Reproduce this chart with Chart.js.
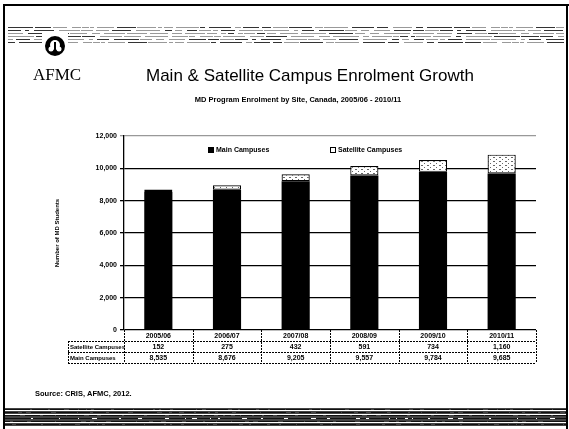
<!DOCTYPE html>
<html>
<head>
<meta charset="utf-8">
<script src="https://cdn.jsdelivr.net/npm/chart.js@4.4.1/dist/chart.umd.min.js"></script>
<style>
  html, body { margin: 0; padding: 0; background: #fff; }
  #wrap { width: 569px; height: 429px; position: relative; }
</style>
</head>
<body>
<div id="wrap"><canvas id="enrolChart" width="569" height="429"></canvas></div>
<script>
// data
var years = ['2005/06', '2006/07', '2007/08', '2008/09', '2009/10', '2010/11'];
var mainCampuses = [8535, 8676, 9205, 9557, 9784, 9685];
var satelliteCampuses = [152, 275, 432, 591, 734, 1160];
var yTicks = [0, 2000, 4000, 6000, 8000, 10000, 12000];

var chartTitle = 'Main & Satellite Campus Enrolment Growth';
var chartSubtitle = 'MD Program Enrolment by Site, Canada, 2005/06 - 2010/11';
var sourceNote = 'Source: CRIS, AFMC, 2012.';

function fmt(v) {
    return v.toLocaleString('en-US');
}

// dotted white fill for the satellite segment
var pCanvas = document.createElement('canvas');
pCanvas.width = 6; pCanvas.height = 4;
var pctx = pCanvas.getContext('2d');
pctx.fillStyle = '#fff';
pctx.fillRect(0, 0, 6, 4);
pctx.fillStyle = '#666';
pctx.fillRect(1, 1, 2, 1);
pctx.fillRect(4, 3, 1, 1);
var satFill = pctx.createPattern(pCanvas, 'repeat');

// scan-like noise strip (decoration only)
function noiseBand(ctx, y0, rows, gap, x0, x1, dark) {
    for (var r = 0; r < rows; r++) {
        var x = x0;
        var k = r * 7 + 3;
        while (x < x1) {
            k = (k * 37 + 11) % 101;
            var len = 4 + (k % 23);
            var skip = 1 + (k % 5);
            ctx.fillStyle = dark ? '#111' : (k % 3 === 0 ? '#333' : '#999');
            ctx.fillRect(x, y0 + r * gap, Math.min(len, x1 - x), 1);
            x += len + skip;
        }
    }
}

var decorPlugin = {
    id: 'slideDecor',
    beforeDraw: function(chart) {
        var ctx = chart.ctx;
        ctx.save();
        ctx.fillStyle = '#fff';
        ctx.fillRect(0, 0, chart.width, chart.height);
        // frame
        ctx.fillStyle = '#000';
        ctx.fillRect(3, 4, 566, 2);
        ctx.fillRect(3, 4, 2, 425);
        ctx.fillRect(566, 4, 2, 425);
        // top noise band
        noiseBand(ctx, 27, 6, 3, 8, 564, false);
        // bottom band
        ctx.fillStyle = '#444';
        ctx.fillRect(5, 408, 561, 19);
        ctx.fillStyle = '#fff';
        for (var i = 0; i < 5; i++) ctx.fillRect(5, 410 + i * 4, 561, 1);
        noiseBand(ctx, 409, 6, 3, 5, 566, true);
        // logo
        ctx.fillStyle = '#fff';
        ctx.fillRect(42, 33, 26, 26);
        ctx.fillStyle = '#000';
        ctx.beginPath();
        ctx.arc(55, 46, 10, 0, Math.PI * 2);
        ctx.fill();
        ctx.fillStyle = '#fff';
        ctx.beginPath();
        ctx.arc(55, 45, 5, 0, Math.PI * 2);
        ctx.fill();
        ctx.beginPath();
        ctx.arc(51, 49, 2.5, 0, Math.PI * 2);
        ctx.arc(59, 49, 2.5, 0, Math.PI * 2);
        ctx.fill();
        ctx.fillStyle = '#000';
        ctx.fillRect(54, 42, 2, 9);
        ctx.font = '17px "Liberation Serif"';
        ctx.textBaseline = 'middle';
        ctx.textAlign = 'left';
        ctx.fillText('AFMC', 33, 76);
        // titles
        ctx.font = '17px "Liberation Sans", Arial, sans-serif';
        ctx.fillText(chartTitle, 146, 76);
        ctx.font = 'bold 7.5px "Liberation Sans", Arial, sans-serif';
        ctx.textAlign = 'center';
        ctx.fillText(chartSubtitle, 298, 100);
        ctx.textAlign = 'left';
        ctx.fillText(sourceNote, 35, 394);
        ctx.restore();
    },
    afterDraw: function(chart) {
        var ctx = chart.ctx;
        var xs = chart.scales.x;
        var area = chart.chartArea;
        var n = years.length;
        var step = (area.right - area.left) / n;
        var tLeft = 68;
        var rowTop = area.bottom;
        var rowH = 11;
        ctx.save();
        ctx.strokeStyle = '#000';
        ctx.lineWidth = 1;
        ctx.setLineDash([2, 1]);
        // horizontal rules
        ctx.beginPath();
        ctx.moveTo(tLeft, rowTop + rowH + 0.5); ctx.lineTo(area.right, rowTop + rowH + 0.5);
        ctx.moveTo(tLeft, rowTop + 2 * rowH + 0.5); ctx.lineTo(area.right, rowTop + 2 * rowH + 0.5);
        ctx.moveTo(tLeft, rowTop + 3 * rowH + 0.5); ctx.lineTo(area.right, rowTop + 3 * rowH + 0.5);
        // verticals
        ctx.moveTo(tLeft + 0.5, rowTop + rowH); ctx.lineTo(tLeft + 0.5, rowTop + 3 * rowH);
        for (var i = 0; i <= n; i++) {
            var x = Math.round(area.left + i * step) + 0.5;
            ctx.moveTo(x, rowTop); ctx.lineTo(x, rowTop + 3 * rowH);
        }
        ctx.stroke();
        ctx.setLineDash([]);
        // text
        ctx.fillStyle = '#000';
        ctx.textBaseline = 'middle';
        ctx.textAlign = 'left';
        ctx.font = 'bold 6px "Liberation Sans", Arial, sans-serif';
        ctx.fillText(chart.data.datasets[1].label, tLeft + 2, rowTop + rowH * 1.5 + 0.5);
        ctx.fillText(chart.data.datasets[0].label, tLeft + 2, rowTop + rowH * 2.5 + 0.5);
        ctx.font = 'bold 7px "Liberation Sans", Arial, sans-serif';
        ctx.textAlign = 'center';
        for (var j = 0; j < n; j++) {
            var cx = xs.getPixelForValue(j);
            ctx.fillText(years[j], cx, rowTop + rowH * 0.5 + 1);
            ctx.fillText(fmt(satelliteCampuses[j]), cx, rowTop + rowH * 1.5 + 0.5);
            ctx.fillText(fmt(mainCampuses[j]), cx, rowTop + rowH * 2.5 + 0.5);
        }
        // legend inside plot
        var legendPos = [211, 333];
        ctx.textAlign = 'left';
        chart.data.datasets.forEach(function(ds, k) {
            var lx = legendPos[k], ly = 150;
            ctx.fillStyle = k === 0 ? '#000' : '#fff';
            ctx.fillRect(lx - 2, ly - 2, 4, 4);
            ctx.strokeStyle = '#000';
            ctx.strokeRect(lx - 2.5, ly - 2.5, 5, 5);
            ctx.fillStyle = '#000';
            ctx.fillText(ds.label, lx + 5, ly + 0.5);
        });
        ctx.restore();
    }
};

var yAxisWidth = 70;

new Chart(document.getElementById('enrolChart'), {
    type: 'bar',
    data: {
        labels: years,
        datasets: [
            {
                label: 'Main Campuses',
                data: mainCampuses,
                backgroundColor: '#000',
                borderColor: '#000',
                borderWidth: 0,
                categoryPercentage: 1,
                barPercentage: 0.41
            },
            {
                label: 'Satellite Campuses',
                data: satelliteCampuses,
                backgroundColor: satFill,
                borderColor: '#000',
                borderWidth: 1.2,
                borderSkipped: false,
                categoryPercentage: 1,
                barPercentage: 0.41
            }
        ]
    },
    options: {
        responsive: false,
        animation: false,
        events: [],
        layout: {
            padding: { left: 124 - yAxisWidth, right: 33, top: 136, bottom: 99 }
        },
        plugins: {
            legend: { display: false },
            tooltip: { enabled: false }
        },
        scales: {
            x: {
                stacked: true,
                display: false
            },
            y: {
                stacked: true,
                min: 0,
                max: 12000,
                afterBuildTicks: function(scale) {
                    scale.ticks = yTicks.map(function(v) { return { value: v }; });
                },
                afterFit: function(scale) {
                    scale.width = yAxisWidth;
                },
                ticks: {
                    color: '#000',
                    padding: 3,
                    font: { family: '"Liberation Sans", Arial, sans-serif', size: 7, weight: 'bold' },
                    callback: function(v) { return fmt(v); }
                },
                grid: {
                    color: function(c) { return c.tick && c.tick.value === 12000 ? '#999' : '#000'; },
                    lineWidth: 1.3,
                    tickLength: 4
                },
                border: { color: '#000', width: 1.3 },
                title: {
                    display: true,
                    text: 'Number of MD Students',
                    color: '#000',
                    padding: { top: 0, bottom: 0 },
                    font: { family: '"Liberation Sans", Arial, sans-serif', size: 6, weight: 'bold' }
                }
            }
        }
    },
    plugins: [decorPlugin]
});
</script>
</body>
</html>
